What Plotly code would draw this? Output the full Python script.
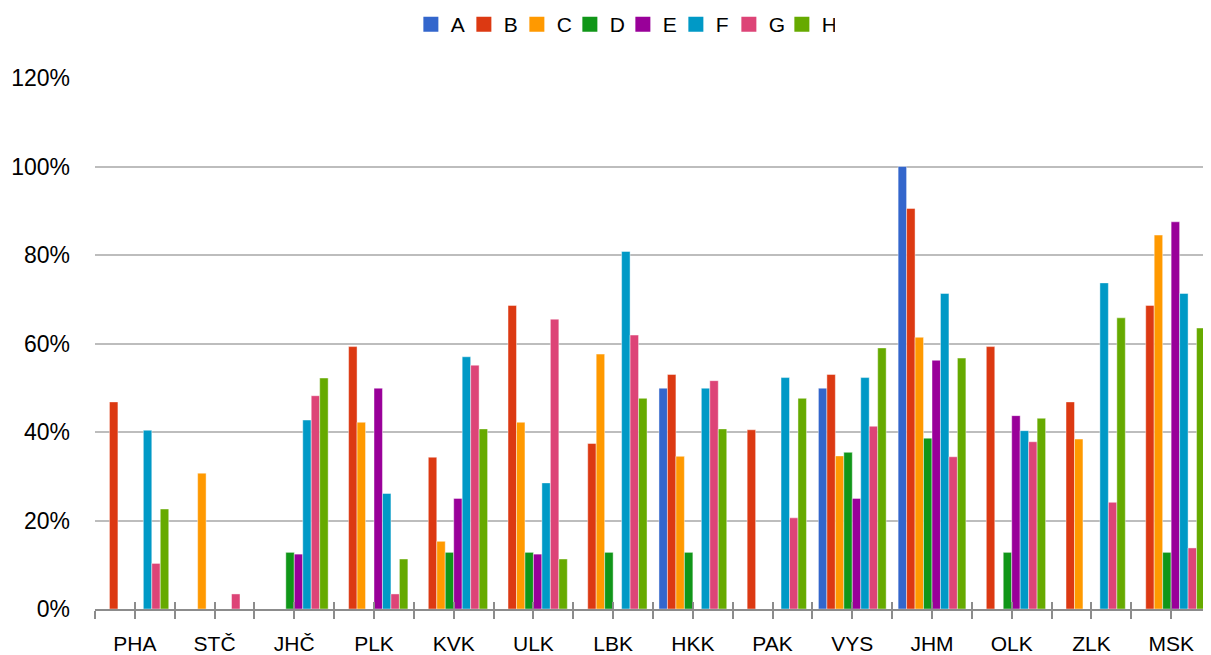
import plotly.graph_objects as go

categories = ["PHA", "STČ", "JHČ", "PLK", "KVK", "ULK", "LBK", "HKK", "PAK", "VYS", "JHM", "OLK", "ZLK", "MSK"]
series_names = ["A", "B", "C", "D", "E", "F", "G", "H"]
colors = ["#3366CC", "#DC3912", "#FF9900", "#109618", "#990099", "#0099C6", "#DD4477", "#66AA00"]

A = [None, None, None, None, None, None, None, 0.499, None, 0.499, 1.000, None, None, None]
B = [0.468, None, None, 0.593, 0.343, 0.686, 0.374, 0.530, 0.405, 0.530, 0.905, 0.593, 0.468, 0.686]
C = [None, 0.307, None, 0.422, 0.153, 0.422, 0.576, 0.345, None, 0.346, 0.614, None, 0.384, 0.845]
D = [None, None, 0.128, None, 0.128, 0.128, 0.128, 0.128, None, 0.354, 0.386, 0.128, None, 0.128]
E = [None, None, 0.124, 0.499, 0.250, 0.124, None, None, None, 0.250, 0.562, 0.437, None, 0.875]
F = [0.404, None, 0.427, 0.261, 0.570, 0.285, 0.808, 0.499, 0.523, 0.523, 0.713, 0.403, 0.737, 0.713]
G = [0.103, 0.034, 0.482, 0.034, 0.551, 0.655, 0.619, 0.516, 0.206, 0.413, 0.344, 0.378, 0.241, 0.138]
H = [0.226, None, 0.522, 0.113, 0.407, 0.113, 0.476, 0.407, 0.476, 0.590, 0.567, 0.431, 0.658, 0.635]

series_values = [A, B, C, D, E, F, G, H]
y_ticks = [0, 0.2, 0.4, 0.6, 0.8, 1.0, 1.2]

positions = list(range(len(categories)))
half_positions = [i - 0.5 for i in range(len(categories) + 1)]

fig = go.Figure()
for name, vals, col in zip(series_names, series_values, colors):
    fig.add_trace(go.Bar(
        x=positions, y=vals, name=name, showlegend=False,
        marker=dict(color=col, line=dict(color="rgba(255,255,255,0.55)", width=0.8)),
    ))
# legend proxies (square swatches)
for name, col in zip(series_names, colors):
    fig.add_trace(go.Scatter(
        x=[None], y=[None], name=name, mode="markers",
        marker=dict(symbol="square", size=15, color=col),
        hoverinfo="skip",
    ))
# helper trace so the overlaid axis carrying the inner tick halves is drawn
fig.add_trace(go.Scatter(x=[None], y=[None], xaxis="x2", showlegend=False,
                         hoverinfo="skip", mode="markers"))

font_family = "Liberation Sans, Arial, sans-serif"
axis_grey = "#8c8c8c"

fig.update_layout(
    width=1203, height=647,
    margin=dict(l=87, r=0, t=70, b=46, autoexpand=False),
    paper_bgcolor="white", plot_bgcolor="white",
    barmode="group", bargap=0.15, bargroupgap=0,
    font=dict(family=font_family, color="#000000", size=21),
    legend=dict(
        orientation="h", x=0.473, xanchor="center",
        y=1 - 16.5 / 647, yanchor="middle", yref="container",
        font=dict(size=21), entrywidth=8, traceorder="normal",
        itemclick=False,
    ),
    showlegend=True,
    xaxis=dict(
        range=[-0.5, len(categories) - 0.5],
        tickmode="array", tickvals=positions, ticktext=categories,
        showgrid=False, zeroline=False,
        showline=True, linecolor=axis_grey, linewidth=1.5,
        ticks="outside", ticklen=8, tickwidth=1.5, tickcolor=axis_grey,
        tickfont=dict(size=21), ticklabelstandoff=7,
        minor=dict(tickvals=half_positions, ticks="outside", ticklen=8, tickwidth=1.5,
                   tickcolor=axis_grey, showgrid=False),
    ),
    xaxis2=dict(
        overlaying="x", matches="x", anchor="y", side="bottom",
        range=[-0.5, len(categories) - 0.5],
        tickmode="array", tickvals=positions + half_positions,
        showticklabels=False, showgrid=False, zeroline=False, showline=False,
        ticks="inside", ticklen=7, tickwidth=1.5, tickcolor=axis_grey,
    ),
    yaxis=dict(
        range=[0, 1.2], tickmode="array", tickvals=y_ticks, tickformat=".0%",
        showgrid=True, gridcolor="#bdbdbd", gridwidth=1.5,
        zeroline=False, showline=False, ticks="",
        tickfont=dict(size=23), ticklabelstandoff=24,
    ),
)

fig.write_html("out.html")
